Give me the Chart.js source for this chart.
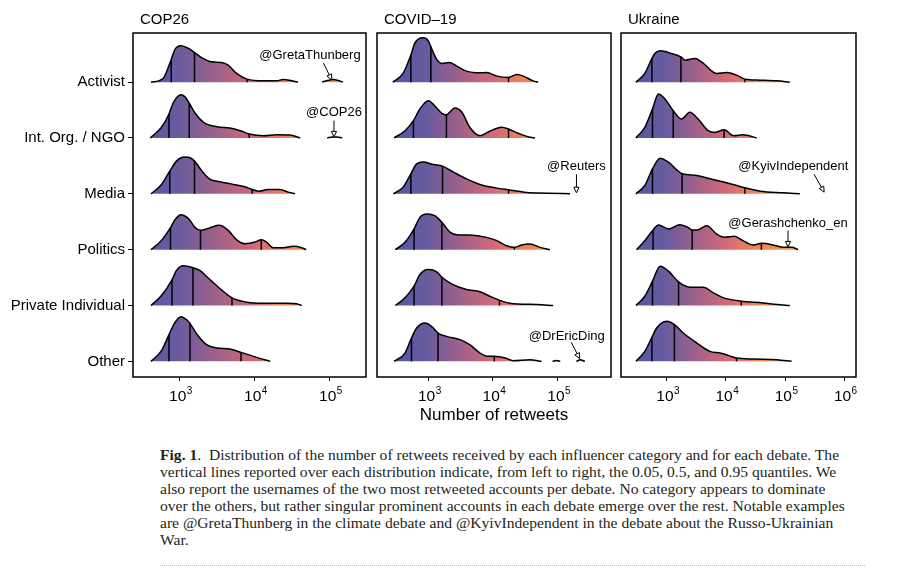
<!DOCTYPE html>
<html>
<head>
<meta charset="utf-8">
<script src="https://cdn.jsdelivr.net/npm/chart.js@4"></script>
<style>
  body { margin: 0; background: #fff; width: 904px; height: 576px; position: relative; overflow: hidden; }
  canvas { position: absolute; top: 0; }
  #caption { position: absolute; left: 160px; top: 446px; font-family: "Liberation Serif", "Times New Roman", serif;
             font-size: 15.6px; line-height: 17.1px; color: #231f20; white-space: nowrap; }
  #rule { position: absolute; left: 160px; top: 565px; width: 705px; border-top: 1px dotted #b5c3d1; }
</style>
</head>
<body>
<canvas id="c0" width="370" height="430" style="left:0px"></canvas>
<canvas id="c1" width="246" height="430" style="left:370px"></canvas>
<canvas id="c2" width="250" height="430" style="left:614px"></canvas>
<div id="caption"><b>Fig. 1</b>.&nbsp; Distribution of the number of retweets received by each influencer category and for each debate. The<br>vertical lines reported over each distribution indicate, from left to right, the 0.05, 0.5, and 0.95 quantiles. We<br>also report the usernames of the two most retweeted accounts per debate. No category appears to dominate<br>over the others, but rather singular prominent accounts in each debate emerge over the rest. Notable examples<br>are @GretaThunberg in the climate debate and @KyivIndependent in the debate about the Russo-Ukrainian<br>War.</div>
<div id="rule"></div>
<script>
const categories = ['Activist', 'Int. Org. / NGO', 'Media', 'Politics', 'Private Individual', 'Other'];
const debates = ['COP26', 'COVID–19', 'Ukraine'];

// density outlines: [log10(retweets), ridge height]
const cop26Activist = [[2.62,0],[2.78,3.7],[2.89,22.7],[2.94,32.7],[3.02,36.3],[3.12,33.7],[3.20,29.7],[3.30,24.3],[3.43,20.3],[3.56,19.7],[3.65,17],[3.76,8.7],[3.90,3],[4.12,1.3],[4.30,1.3],[4.38,2.7],[4.52,1],[4.58,0]];
const cop26IntOrg = [[2.61,0],[2.76,10.7],[2.86,24],[2.92,35.7],[3.02,43.3],[3.07,41.3],[3.13,34.7],[3.21,24.7],[3.32,15.7],[3.50,11.3],[3.67,10],[3.81,7.3],[3.93,4],[4.12,2.3],[4.30,3.3],[4.47,3],[4.61,0]];
const cop26Media = [[2.62,0],[2.76,9.4],[2.87,22.7],[2.96,32.7],[3.07,36.7],[3.14,36],[3.20,32.7],[3.30,22.7],[3.41,14.4],[3.54,12],[3.72,9.4],[3.87,7],[3.97,4.4],[4.07,2.7],[4.18,4.4],[4.34,4.4],[4.45,1.7],[4.54,0]];
const cop26Politics = [[2.62,0],[2.76,9.3],[2.88,22],[2.94,30],[3.02,35],[3.12,31],[3.21,22],[3.28,19.3],[3.41,22],[3.53,24.3],[3.65,19.3],[3.76,10],[3.87,6],[4.01,7.6],[4.09,10],[4.16,7.6],[4.25,2],[4.38,2],[4.52,3.3],[4.63,2],[4.69,0]];
const cop26Private = [[2.62,0],[2.76,10],[2.90,25.7],[2.96,35],[3.05,39.7],[3.18,37.7],[3.27,35],[3.38,27.7],[3.52,18.3],[3.70,7.7],[3.90,3.3],[4.12,2.3],[4.43,2.3],[4.56,1.7],[4.63,0]];
const cop26Other = [[2.62,0],[2.76,10.7],[2.86,26.7],[2.94,39],[3.02,44.7],[3.10,41.3],[3.14,38],[3.23,27.3],[3.36,16.7],[3.50,13.3],[3.67,12.3],[3.82,9],[4.03,4],[4.21,0]];

const covidActivist = [[2.45,0],[2.61,8.7],[2.73,27],[2.79,38.7],[2.92,44.3],[3.00,41.3],[3.04,35.3],[3.13,22.7],[3.21,18.7],[3.32,19.7],[3.44,16],[3.59,11],[3.80,9.3],[3.90,9.7],[4.06,6],[4.24,4.7],[4.37,7.7],[4.47,6],[4.62,1.3],[4.70,0]];
const covidIntOrg = [[2.47,0],[2.64,7.3],[2.77,17.3],[2.87,29],[3.00,37.3],[3.13,30],[3.21,24.7],[3.28,23.3],[3.41,30],[3.52,25.7],[3.64,10.7],[3.80,2.3],[3.95,6.7],[4.13,10.7],[4.24,9],[4.39,4.7],[4.55,1],[4.65,0]];
const covidMedia = [[2.46,0],[2.61,6.7],[2.73,20],[2.82,30],[2.92,31.7],[3.08,29.3],[3.22,27.7],[3.39,21.7],[3.59,15],[3.85,8.3],[4.06,5.7],[4.24,4],[4.52,1.3],[4.83,0.7],[5.19,0]];
const covidPolitics = [[2.49,0],[2.64,7.3],[2.78,20.7],[2.87,32.3],[2.98,35.7],[3.10,34],[3.21,27.3],[3.34,17.3],[3.44,15],[3.64,14.7],[3.90,12.3],[4.06,9],[4.21,4],[4.33,2.3],[4.44,4.7],[4.57,5.7],[4.73,2.3],[4.88,0]];
const covidPrivate = [[2.49,0],[2.64,7.7],[2.78,19.3],[2.87,31],[3.00,36],[3.13,33.7],[3.21,28.3],[3.36,21.7],[3.59,16],[3.80,13.7],[3.95,9.3],[4.10,5.3],[4.26,2.3],[4.68,1],[4.93,0]];
const covidOther = [[2.47,0],[2.64,8.3],[2.74,23.3],[2.82,33.3],[2.95,38.3],[3.05,35],[3.15,28.3],[3.28,25],[3.49,21.7],[3.64,16.7],[3.80,8.3],[3.93,5],[4.02,5],[4.19,3.3],[4.31,0.7],[4.57,1.7],[4.75,0]];

const ukraineActivist = [[2.48,0],[2.63,8.7],[2.75,23.7],[2.80,28.7],[2.89,31.3],[3.08,28.7],[3.24,25.3],[3.31,22],[3.48,23.7],[3.62,18.7],[3.84,8.7],[4.01,9.7],[4.18,7],[4.32,3],[4.58,2],[4.86,1.3],[5.08,0]];
const ukraineIntOrg = [[2.48,0],[2.63,10.7],[2.76,29],[2.86,44],[2.97,39],[3.11,27.3],[3.25,19],[3.39,25.6],[3.53,19],[3.70,7.3],[3.82,5.6],[3.97,8.3],[4.13,2.3],[4.29,3.3],[4.52,0]];
const ukraineMedia = [[2.48,0],[2.63,8.3],[2.76,25],[2.89,35.6],[3.03,31.6],[3.17,24],[3.26,20],[3.51,18.3],[3.73,15],[4.01,11],[4.18,8.3],[4.32,6],[4.58,2.6],[4.97,1],[5.25,0]];
const ukrainePolitics = [[2.49,0],[2.63,9],[2.77,19.7],[2.86,24.7],[3.03,20.7],[3.22,25],[3.36,22.3],[3.43,19.7],[3.51,19.7],[3.68,24],[3.84,15.7],[3.98,12.3],[4.14,13.3],[4.29,9],[4.46,4.7],[4.60,6.3],[4.80,4.7],[4.97,2.3],[5.11,2.3],[5.22,0]];
const ukrainePrivate = [[2.48,0],[2.63,9.3],[2.76,24.3],[2.89,39.3],[3.03,34.3],[3.20,23.6],[3.39,18.3],[3.62,18.3],[3.79,12.6],[3.96,7.6],[4.26,4.3],[4.63,2.6],[4.86,1],[5.08,0]];
const ukraineOther = [[2.48,0],[2.63,10],[2.75,24],[2.83,33.3],[3.00,40],[3.13,36.7],[3.28,28.3],[3.51,18.3],[3.73,10],[3.90,8.3],[4.04,6],[4.18,3.3],[4.46,2.3],[4.86,1.7],[5.11,0]];

// 0.05, 0.5, 0.95 quantiles (log10), one triple per category
const cop26Quantiles = [[2.89,3.20,3.90],[2.86,3.13,3.93],[2.87,3.20,3.97],[2.88,3.28,4.09],[2.90,3.18,3.70],[2.86,3.14,3.82]];
const covidQuantiles = [[2.73,3.04,4.24],[2.77,3.28,4.24],[2.73,3.22,4.24],[2.78,3.21,4.33],[2.78,3.21,4.10],[2.74,3.15,4.02]];
const ukraineQuantiles = [[2.75,3.24,4.32],[2.76,3.11,3.97],[2.76,3.26,4.32],[2.77,3.43,4.60],[2.76,3.20,4.26],[2.75,3.13,4.18]];

// isolated top accounts: [category index, outline]
const cop26Outliers = [[0, [[4.90,0],[4.97,1.6],[5.05,2.6],[5.12,1.6],[5.18,0]]], [1, [[4.97,0],[5.04,1],[5.10,1],[5.17,0]]]];
const covidOutliers = [[5, [[4.92,0],[4.98,0.8],[5.04,0]]], [5, [[5.29,0],[5.35,1.5],[5.42,0]]]];
const ukraineOutliers = [];

const cop26Ticks = [3, 4, 5];
const covidTicks = [3, 4, 5];
const ukraineTicks = [3, 4, 5, 6];

const FONT = '"Liberation Sans", Arial, Helvetica, sans-serif';
const H = 1 / 55.8;            // ridge height -> row units
const gradStops = [2.4, 3.0, 3.5, 4.0, 4.3, 4.6, 5.0, 5.5];
const gradColors = ['#4f57a8', '#6a5b9e', '#a06189', '#d2697a', '#e57a64', '#ef8755', '#f5914b', '#f89a45'];

const panels = [
  { title: debates[0], curves: [cop26Activist, cop26IntOrg, cop26Media, cop26Politics, cop26Private, cop26Other],
    quantiles: cop26Quantiles, outliers: cop26Outliers, ticks: cop26Ticks, range: [2.38, 5.487],
    pad: { left: 0, right: 4 },
    notes: [
      { text: '@GretaThunberg', tx: 4.74, ty: 5.41, from: [4.92, 5.34], to: [5.03, 5.04] },
      { text: '@COP26', tx: 5.06, ty: 4.40, from: [5.06, 4.31], to: [5.06, 4.02] }
    ] },
  { title: debates[1], curves: [covidActivist, covidIntOrg, covidMedia, covidPolitics, covidPrivate, covidOther],
    quantiles: covidQuantiles, outliers: covidOutliers, ticks: covidTicks, range: [2.207, 5.824],
    pad: { left: 7, right: 5 },
    notes: [
      { text: '@Reuters', tx: 5.29, ty: 3.42, from: [5.29, 3.35], to: [5.29, 3.02] },
      { text: '@DrEricDing', tx: 5.14, ty: 0.39, from: [5.21, 0.34], to: [5.34, 0.05] }
    ] },
  { title: debates[2], curves: [ukraineActivist, ukraineIntOrg, ukraineMedia, ukrainePolitics, ukrainePrivate, ukraineOther],
    quantiles: ukraineQuantiles, outliers: ukraineOutliers, ticks: ukraineTicks, range: [2.228, 6.198],
    pad: { left: 7, right: 8 },
    notes: [
      { text: '@KyivIndependent', tx: 5.14, ty: 3.42, from: [5.49, 3.35], to: [5.66, 3.03] },
      { text: '@Gerashchenko_en', tx: 5.05, ty: 2.40, from: [5.05, 2.34], to: [5.05, 2.05] }
    ] }
];

function gradient(chart) {
  const area = chart.chartArea;
  if (!area) return '#8a5f92';
  const xs = chart.scales.x;
  const e0 = gradStops[0], e1 = gradStops[gradStops.length - 1];
  const g = chart.ctx.createLinearGradient(xs.getPixelForValue(10 ** e0), 0, xs.getPixelForValue(10 ** e1), 0);
  gradStops.forEach((e, i) => g.addColorStop((e - e0) / (e1 - e0), gradColors[i]));
  return g;
}

function heightAt(pts, e) {
  for (let i = 1; i < pts.length; i++) {
    if (pts[i][0] >= e) {
      const [x0, h0] = pts[i - 1], [x1, h1] = pts[i];
      return h0 + (h1 - h0) * (e - x0) / (x1 - x0);
    }
  }
  return 0;
}

function ridge(pts, row) {
  return {
    data: pts.map(([e, h]) => ({ x: 10 ** e, y: row + h * H })),
    borderColor: '#000', borderWidth: 1.5, pointRadius: 0,
    cubicInterpolationMode: 'monotone', order: 2,
    fill: { value: row }, backgroundColor: ctx => gradient(ctx.chart)
  };
}

function buildDatasets(p) {
  const sets = [];
  p.curves.forEach((pts, i) => {
    const row = categories.length - 1 - i;
    sets.push(ridge(pts, row));
    p.quantiles[i].forEach(q => {
      sets.push({
        data: [{ x: 10 ** q, y: row }, { x: 10 ** q, y: row + heightAt(pts, q) * H }],
        borderColor: '#000', borderWidth: 1.5, pointRadius: 0, fill: false, order: 1
      });
    });
  });
  p.outliers.forEach(([i, pts]) => sets.push(ridge(pts, categories.length - 1 - i)));
  return sets;
}

const panelDecor = {
  id: 'panelDecor',
  afterDatasetsDraw(chart, args, opts) {
    const { ctx, chartArea: a, scales: { x, y } } = chart;
    ctx.save();
    ctx.strokeStyle = '#000';
    ctx.lineWidth = 1.5;
    ctx.strokeRect(a.left, a.top, a.right - a.left, a.bottom - a.top);

    ctx.fillStyle = '#000';
    ctx.textAlign = 'left';
    ctx.textBaseline = 'alphabetic';
    ctx.font = '15px ' + FONT;
    ctx.fillText(opts.title, a.left + 7, 24);

    // tick labels 10^n
    x.ticks.forEach(t => {
      const px = x.getPixelForValue(t.value);
      const exp = String(Math.round(Math.log10(t.value)));
      ctx.font = '15.5px ' + FONT;
      const w1 = ctx.measureText('10').width;
      ctx.font = '10px ' + FONT;
      const w2 = ctx.measureText(exp).width;
      const left = px - (w1 + w2) / 2 + 1;
      ctx.font = '15.5px ' + FONT;
      ctx.fillText('10', left, a.bottom + 24);
      ctx.font = '10px ' + FONT;
      ctx.fillText(exp, left + w1 + 0.5, a.bottom + 16.5);
    });

    // annotations
    opts.notes.forEach(n => {
      ctx.font = '13px ' + FONT;
      ctx.textAlign = 'center';
      ctx.fillStyle = '#000';
      ctx.fillText(n.text, x.getPixelForValue(10 ** n.tx), y.getPixelForValue(n.ty));
      const x0 = x.getPixelForValue(10 ** n.from[0]), y0 = y.getPixelForValue(n.from[1]);
      const x1 = x.getPixelForValue(10 ** n.to[0]), y1 = y.getPixelForValue(n.to[1]);
      const ang = Math.atan2(y1 - y0, x1 - x0);
      const len = 5.5, hw = 2.6;
      const bx = x1 - len * Math.cos(ang), by = y1 - len * Math.sin(ang);
      ctx.lineWidth = 1;
      ctx.beginPath();
      ctx.moveTo(x0, y0);
      ctx.lineTo(bx, by);
      ctx.stroke();
      ctx.beginPath();
      ctx.moveTo(x1, y1);
      ctx.lineTo(bx + hw * Math.sin(ang), by - hw * Math.cos(ang));
      ctx.lineTo(bx - hw * Math.sin(ang), by + hw * Math.cos(ang));
      ctx.closePath();
      ctx.fillStyle = '#fff';
      ctx.fill();
      ctx.stroke();
    });
    ctx.restore();
  }
};

panels.forEach((p, i) => {
  new Chart(document.getElementById('c' + i), {
    type: 'line',
    data: { datasets: buildDatasets(p) },
    options: {
      responsive: false,
      animation: false,
      layout: { padding: { top: 33, bottom: 0, left: p.pad.left, right: p.pad.right } },
      plugins: {
        legend: { display: false },
        tooltip: { enabled: false },
        panelDecor: { title: p.title, notes: p.notes }
      },
      scales: {
        x: {
          type: 'logarithmic',
          min: 10 ** p.range[0], max: 10 ** p.range[1],
          afterBuildTicks: s => { s.ticks = p.ticks.map(e => ({ value: 10 ** e })); },
          ticks: { display: false, autoSkip: false },
          grid: { drawOnChartArea: false, drawTicks: true, tickLength: 4, color: '#000', lineWidth: 1 },
          border: { display: false },
          afterFit: s => { s.height = 53; },
          title: { display: i === 1, text: 'Number of retweets', color: '#000',
                   font: { size: 17, family: FONT }, padding: { top: 0, bottom: 4 } }
        },
        y: {
          type: 'linear', min: -0.28, max: 5.88,
          display: i === 0,
          afterBuildTicks: s => { s.ticks = categories.map((c, k) => ({ value: k })); },
          ticks: { autoSkip: false, padding: 3, color: '#000', font: { size: 15, family: FONT },
                   callback: v => categories[categories.length - 1 - v] },
          grid: { drawOnChartArea: false, drawTicks: true, tickLength: 5, color: '#000', lineWidth: 1 },
          border: { display: false },
          afterFit: s => { if (i === 0) s.width = 133; }
        }
      }
    },
    plugins: [panelDecor]
  });
});
</script>
</body>
</html>
